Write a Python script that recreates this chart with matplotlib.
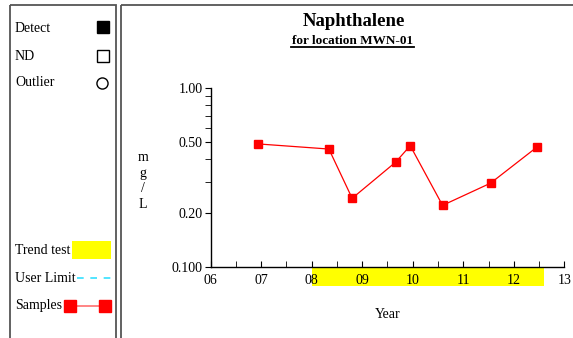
import matplotlib
matplotlib.use("Agg")
import matplotlib.pyplot as plt
from matplotlib.patches import Rectangle
import matplotlib.transforms as mtransforms

plt.rcParams["font.family"] = ["Liberation Serif", "DejaVu Serif"]

# sample dates (decimal years) and concentrations (mg/L)
sample_years = [2006.94, 2008.34, 2008.80, 2009.66, 2009.95, 2010.59, 2011.54, 2012.46]
sample_values = [0.487, 0.456, 0.242, 0.385, 0.476, 0.221, 0.294, 0.468]
trend_start, trend_end = 2008.0, 2012.6
year_ticks = [2006, 2007, 2008, 2009, 2010, 2011, 2012, 2013]
y_major = [0.1, 0.2, 0.5, 1.0]
y_major_labels = ["0.100", "0.20", "0.50", "1.00"]
y_minor = [0.3, 0.4, 0.6, 0.7, 0.8, 0.9]

W, H = 573, 338
fig = plt.figure(figsize=(W / 100, H / 100), dpi=100)

# background layer in pixel coordinates for frames and the key
bg = fig.add_axes([0, 0, 1, 1], zorder=0)
bg.set_xlim(0, W)
bg.set_ylim(H, 0)
bg.axis("off")
frame = "#555555"
bg.add_patch(Rectangle((9.5, 5), 106, 340, fill=False, ec=frame, lw=1.3))
bg.add_patch(Rectangle((121, 5), 460, 340, fill=False, ec=frame, lw=1.3))

fs = 10
bg.text(15, 28, "Detect", fontsize=fs, va="center")
bg.plot([103], [27], "s", color="black", ms=8)
bg.text(15, 56, "ND", fontsize=fs, va="center")
bg.plot([103], [56], "s", mfc="white", mec="black", mew=1, ms=8)
bg.text(15, 83, "Outlier", fontsize=fs, va="center")
bg.plot([102], [83], "o", mfc="white", mec="black", mew=1, ms=8)
bg.text(15, 250, "Trend test", fontsize=fs, va="center")
bg.add_patch(Rectangle((72, 241), 39, 17.5, color="yellow", lw=0))
bg.text(15, 278, "User Limit", fontsize=fs, va="center")
bg.plot([77, 111], [278, 278], color="#33e0ff", lw=1.2, ls=(0, (4, 4)))
bg.text(15, 305, "Samples", fontsize=fs, va="center")
bg.plot([70, 105], [306, 306], color="#ff7070", lw=1.2)
bg.plot([70, 105], [306, 306], "s", color="red", ms=8, ls="none")

ax = fig.add_axes([210.7 / W, 1 - 267 / H, (564.3 - 210.7) / W, (267 - 88) / H], zorder=1)
ax.patch.set_alpha(0)
ax.set_yscale("log")
ax.set_xlim(2006, 2013)
ax.set_ylim(0.1, 1.0)
ax.spines["top"].set_visible(False)
ax.spines["right"].set_visible(False)
for s in ["left", "bottom"]:
    ax.spines[s].set_linewidth(1)

ax.plot(sample_years, sample_values, "-", color="red", lw=0.9,
        marker="s", ms=5.5, mfc="red", mec="red", zorder=3, clip_on=False)

# trend test period shown below the x axis
trans = mtransforms.blended_transform_factory(ax.transData, ax.transAxes)
ax.add_patch(Rectangle((trend_start, -0.106), trend_end - trend_start, 0.106,
                       transform=trans, color="yellow", lw=0, clip_on=False, zorder=0))

ax.set_xticks(year_ticks)
ax.set_xticklabels(["%02d" % (y % 100) for y in year_ticks])
ax.set_xticks([y + 0.5 for y in year_ticks[:-1]], minor=True)
ax.tick_params(axis="x", which="both", direction="in", length=4, labelsize=10, pad=5)
ax.set_yticks(y_major)
ax.set_yticklabels(y_major_labels)
ax.set_yticks(y_minor, minor=True)
ax.yaxis.set_minor_formatter(plt.NullFormatter())
ax.tick_params(axis="y", which="both", direction="out", length=4, labelsize=10, pad=2)

ax.set_xlabel("Year", fontsize=10, labelpad=15)
fig.text(143 / W, 1 - 181 / H, "m\ng\n/\nL", fontsize=10, ha="center", va="center",
         linespacing=1.25)

fig.text(354 / W, 1 - 22 / H, "Naphthalene", fontsize=13.5, fontweight="bold",
         ha="center", va="center")
fig.text(353 / W, 1 - 41 / H, "for location MWN-01", fontsize=9.5,
         fontweight="bold", ha="center", va="center")
bg.plot([291, 414], [47, 47], color="black", lw=1.3)

fig.savefig("out.png", dpi=100)
